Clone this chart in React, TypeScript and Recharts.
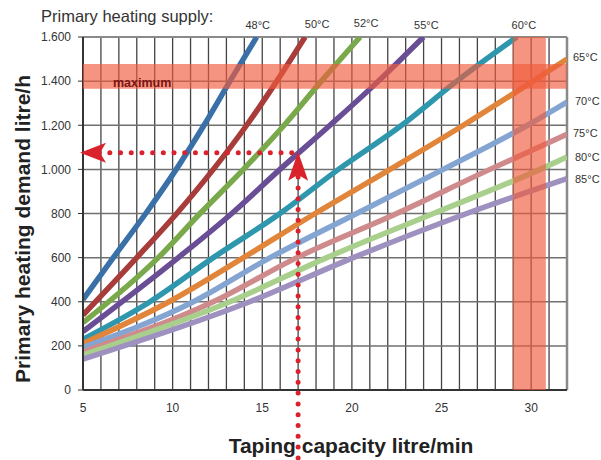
import React from 'react';
import {
  LineChart,
  Line,
  XAxis,
  YAxis,
  CartesianGrid,
  ReferenceArea,
  ReferenceLine,
  ReferenceDot,
} from 'recharts';

const FONT = 'Arial, "Liberation Sans", sans-serif';

// axis ticks (x: one grid line per litre/min, labels every 5)
const X_TICKS = [5, 6, 7, 8, 9, 10, 11, 12, 13, 14, 15, 16, 17, 18, 19, 20, 21, 22, 23, 24, 25, 26, 27, 28, 29, 30, 31, 32];
const Y_TICKS = [0, 200, 400, 600, 800, 1000, 1200, 1400, 1600];

// taping capacity (x) vs primary demand (y)
const s48 = [{ x: 5, y: 410 }, { x: 6.69, y: 600 }, { x: 8.5, y: 800 }, { x: 10.2, y: 1000 }, { x: 11.75, y: 1200 }, { x: 13.2, y: 1400 }, { x: 14.69, y: 1600 }];
const s50 = [{ x: 5, y: 340 }, { x: 8.0, y: 600 }, { x: 10.23, y: 800 }, { x: 12.27, y: 1000 }, { x: 14.13, y: 1200 }, { x: 15.81, y: 1400 }, { x: 17.39, y: 1600 }];
const s52 = [{ x: 5, y: 305 }, { x: 9.2, y: 600 }, { x: 11.53, y: 800 }, { x: 13.95, y: 1000 }, { x: 16.22, y: 1200 }, { x: 18.3, y: 1400 }, { x: 20.46, y: 1600 }];
const s55 = [{ x: 5, y: 265 }, { x: 10.32, y: 600 }, { x: 13.3, y: 800 }, { x: 15.99, y: 1000 }, { x: 18.78, y: 1200 }, { x: 21.48, y: 1400 }, { x: 23.99, y: 1600 }];
const s60 = [{ x: 5, y: 230 }, { x: 8.74, y: 400 }, { x: 12.27, y: 600 }, { x: 15.99, y: 800 }, { x: 19.25, y: 1000 }, { x: 22.78, y: 1200 }, { x: 25.85, y: 1400 }, { x: 29.2, y: 1600 }];
const s65 = [{ x: 5, y: 211 }, { x: 9.8, y: 400 }, { x: 13.95, y: 600 }, { x: 17.95, y: 800 }, { x: 22.13, y: 1000 }, { x: 26.22, y: 1200 }, { x: 30.1, y: 1400 }, { x: 32, y: 1500 }];
const s70 = [{ x: 5, y: 193 }, { x: 11.16, y: 400 }, { x: 15.44, y: 600 }, { x: 20.27, y: 800 }, { x: 25.1, y: 1000 }, { x: 29.8, y: 1200 }, { x: 32, y: 1305 }];
const s75 = [{ x: 5, y: 173 }, { x: 12.27, y: 400 }, { x: 16.93, y: 600 }, { x: 22.5, y: 800 }, { x: 27.7, y: 1000 }, { x: 32, y: 1159 }];
const s80 = [{ x: 5, y: 159 }, { x: 13.2, y: 400 }, { x: 18.6, y: 600 }, { x: 24.55, y: 800 }, { x: 30.5, y: 1000 }, { x: 32, y: 1056 }];
const s85 = [{ x: 5, y: 140 }, { x: 14.3, y: 400 }, { x: 20.08, y: 600 }, { x: 26.41, y: 800 }, { x: 32, y: 958 }];

const TEMPS = ['48°C', '50°C', '52°C', '55°C', '60°C', '65°C', '70°C', '75°C', '80°C', '85°C'];
const COLORS = ['#3a70a8', '#a83c3b', '#7aa94b', '#6a4e95', '#2f97ad', '#e0853a', '#84a5d2', '#cf8b8c', '#a8cf8c', '#9e91c0'];
const SERIES = [s48, s50, s52, s55, s60, s65, s70, s75, s80, s85];
// label offset from the end of each line (top ones sit above, right ones beside)
const LABEL_OFFSETS = [[1, -8], [12, -9], [6, -10], [3, -8], [7, -8], [6, -1], [8, 0], [6, 0], [8, 1], [8, 1]];

// maximum band and capacity band
const MAX_DEMAND = [1365, 1478];
const MAX_CAPACITY = [28.98, 30.82];

// example reading
const READ_X = 17;
const READ_Y = 1075;

const fmtY = (v: number) =>
  v >= 1000 ? `${Math.floor(v / 1000)}.${String(v % 1000).padStart(3, '0')}` : String(v);

const RED = '#d9222c';

export default function App() {
  return (
    <div style={{ position: 'absolute', left: 0, top: 0, width: 601, height: 460, background: '#fff', fontFamily: FONT }}>
      <LineChart width={601} height={460} margin={{ top: 37, right: 34, bottom: 40, left: 0 }}>
        <CartesianGrid horizontal={false} stroke="#444" strokeWidth={1.3} />
        <CartesianGrid vertical={false} stroke="#707070" strokeWidth={1.5} />
        <XAxis
          type="number"
          dataKey="x"
          domain={[5, 32]}
          ticks={X_TICKS}
          interval={0}
          allowDataOverflow
          tickFormatter={(v) => (v % 5 === 0 ? String(v) : '')}
          tickLine={false}
          tickSize={0}
          tickMargin={13}
          height={30}
          axisLine={{ stroke: '#333', strokeWidth: 2 }}
          tick={{ fontSize: 12, fill: '#333', fontFamily: FONT }}
        />
        <YAxis
          type="number"
          domain={[0, 1600]}
          ticks={Y_TICKS}
          interval={0}
          allowDataOverflow
          tickFormatter={fmtY}
          width={83}
          tickSize={5}
          tickMargin={7}
          tickLine={{ stroke: '#333' }}
          axisLine={{ stroke: '#333', strokeWidth: 2 }}
          tick={{ fontSize: 12, fill: '#333', fontFamily: FONT }}
        />
        <ReferenceLine x={32} stroke="#8a8a8a" strokeWidth={2.5} />
        <ReferenceLine y={1600} stroke="#8a8a8a" strokeWidth={2} />

        {SERIES.map((data, i) => (
          <Line
            key={TEMPS[i]}
            data={data}
            dataKey="y"
            type="monotone"
            stroke={COLORS[i]}
            strokeWidth={5.5}
            dot={false}
            activeDot={false}
            isAnimationActive={false}
          />
        ))}

        <ReferenceArea
          x1={5}
          x2={32}
          y1={MAX_DEMAND[0]}
          y2={MAX_DEMAND[1]}
          fill="#ef5a3c"
          fillOpacity={0.65}
          stroke="none"
          ifOverflow="visible"
          zIndex={600}
        />
        <ReferenceArea
          x1={MAX_CAPACITY[0]}
          x2={MAX_CAPACITY[1]}
          y1={0}
          y2={1600}
          fill="#ef5a3c"
          fillOpacity={0.65}
          stroke="none"
          ifOverflow="visible"
          zIndex={600}
        />
        <ReferenceDot
          x={5}
          y={(MAX_DEMAND[0] + MAX_DEMAND[1]) / 2}
          ifOverflow="visible"
          zIndex={700}
          shape={(p: any) => (
            <text x={p.cx + 30} y={p.cy + 11} fontSize={12.5} fontWeight={700} fill="#7c1414" fontFamily={FONT}>
              maximum
            </text>
          )}
        />

        {SERIES.map((data, i) => {
          const end = data[data.length - 1];
          const [dx, dy] = LABEL_OFFSETS[i];
          const top = end.y >= 1600;
          return (
            <ReferenceDot
              key={'lbl' + i}
              x={end.x}
              y={end.y}
              ifOverflow="visible"
              zIndex={700}
              shape={(p: any) => (
                <text
                  x={p.cx + dx}
                  y={p.cy + dy}
                  fontSize={11}
                  fill="#333"
                  fontFamily={FONT}
                  textAnchor={top ? 'middle' : 'start'}
                  dominantBaseline={top ? 'auto' : 'middle'}
                >
                  {TEMPS[i]}
                </text>
              )}
            />
          );
        })}

        <ReferenceLine
          segment={[{ x: 5.9, y: READ_Y }, { x: READ_X, y: READ_Y }]}
          stroke={RED}
          strokeWidth={5}
          strokeDasharray="0 10.7"
          strokeLinecap="round"
          ifOverflow="visible"
          zIndex={700}
        />
        <ReferenceLine
          segment={[{ x: READ_X, y: READ_Y - 110 }, { x: READ_X, y: -320 }]}
          stroke={RED}
          strokeWidth={5}
          strokeDasharray="0 10.8"
          strokeLinecap="round"
          ifOverflow="visible"
          zIndex={700}
        />
        <ReferenceDot
          x={5}
          y={READ_Y}
          ifOverflow="visible"
          zIndex={700}
          shape={(p: any) => (
            <polygon
              points={`${p.cx - 3},${p.cy} ${p.cx + 23},${p.cy - 10} ${p.cx + 17},${p.cy} ${p.cx + 23},${p.cy + 10}`}
              fill={RED}
            />
          )}
        />
        <ReferenceDot
          x={READ_X}
          y={READ_Y}
          ifOverflow="visible"
          zIndex={700}
          shape={(p: any) => (
            <polygon
              points={`${p.cx},${p.cy - 1} ${p.cx + 10},${p.cy + 28} ${p.cx},${p.cy + 22} ${p.cx - 10},${p.cy + 28}`}
              fill={RED}
            />
          )}
        />
      </LineChart>

      <div style={{ position: 'absolute', left: 41, top: 7, fontSize: 16.5, color: '#333', whiteSpace: 'nowrap' }}>
        Primary heating supply:
      </div>
      <div
        style={{
          position: 'absolute',
          left: 23,
          top: 229,
          transform: 'translate(-50%, -50%) rotate(-90deg)',
          fontSize: 21,
          fontWeight: 'bold',
          color: '#222',
          whiteSpace: 'nowrap',
        }}
      >
        Primary heating demand litre/h
      </div>
      <div
        style={{
          position: 'absolute',
          left: 351,
          top: 446,
          transform: 'translate(-50%, -50%)',
          fontSize: 21,
          fontWeight: 'bold',
          color: '#222',
          whiteSpace: 'nowrap',
        }}
      >
        Taping capacity litre/min
      </div>
    </div>
  );
}
